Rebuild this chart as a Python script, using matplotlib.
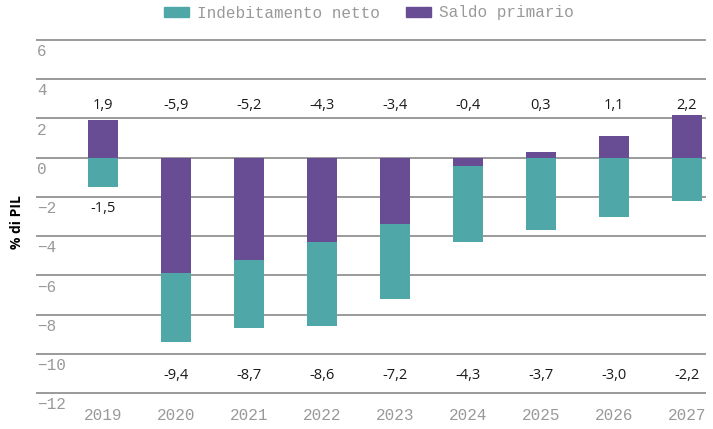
import matplotlib
matplotlib.use("Agg")
import matplotlib.pyplot as plt
from matplotlib.patches import Patch
from matplotlib import transforms

years = ["2019", "2020", "2021", "2022", "2023", "2024", "2025", "2026", "2027"]
indebitamento = [-1.5, -9.4, -8.7, -8.6, -7.2, -4.3, -3.7, -3.0, -2.2]
primario = [1.9, -5.9, -5.2, -4.3, -3.4, -0.4, 0.3, 1.1, 2.2]
yticks = [-12, -10, -8, -6, -4, -2, 0, 2, 4, 6]

teal = "#4FA8A7"
purple = "#684C94"
gray = "#9a9a9a"
txtgray = "#999999"
mono = "Liberation Mono"
sans = "Open Sans"

W, H = 713, 429
fig = plt.figure(figsize=(W / 100, H / 100), dpi=100)
ax = fig.add_axes([37 / W, 1 - 393 / H, (705 - 37) / W, (393 - 40) / H])

x = list(range(len(years)))
bw = 30 / 73
ax.bar(x, indebitamento, width=bw, color=teal, zorder=2)
ax.bar(x, primario, width=bw, color=purple, zorder=3)

ax.set_xlim(-0.904, 8.247)
ax.set_ylim(-12, 6)

for t in yticks:
    ax.axhline(t, color=gray, lw=1.4, zorder=1, clip_on=False)
    off = transforms.offset_copy(ax.transData, fig=fig, x=0, y=-3, units="points")
    lab = ("\u2212" + str(abs(t))) if t < 0 else str(t)
    ax.text(0.0, t, lab, transform=transforms.blended_transform_factory(ax.transAxes, off),
            ha="left", va="top", fontsize=11.5, color=txtgray, family=mono)

def fmt(v):
    return f"{v:.1f}".replace(".", ",")

for i in x:
    ax.text(i, 2.65, fmt(primario[i]), ha="center", va="center", fontsize=10.5,
            color="#1a1a1a", family=sans)
    yb = indebitamento[i] - 1.1 if i == 0 else -11.1
    ax.text(i, yb, fmt(indebitamento[i]), ha="center", va="center", fontsize=10.5,
            color="#1a1a1a", family=sans)

ax.set_yticks([])
ax.set_xticks(x)
ax.set_xticklabels(years, family=mono, fontsize=11.5, color=txtgray)
ax.tick_params(axis="x", length=0, pad=11)
for s in ax.spines.values():
    s.set_visible(False)

fig.text(17 / W, 1 - 222 / H, "% di PIL", rotation=90, ha="center", va="center",
         fontsize=10, fontweight="bold", family=sans, color="black")

handles = [Patch(color=teal, label="Indebitamento netto"),
           Patch(color=purple, label="Saldo primario")]
fig.legend(handles=handles, loc="center", bbox_to_anchor=(369 / W, 1 - 13 / H),
           ncol=2, frameon=False, prop={"family": mono, "size": 11.5},
           labelcolor=txtgray, handlelength=1.6, handleheight=0.55,
           handletextpad=0.5, columnspacing=1.6, borderpad=0, borderaxespad=0)

fig.savefig("out.png", dpi=100)
